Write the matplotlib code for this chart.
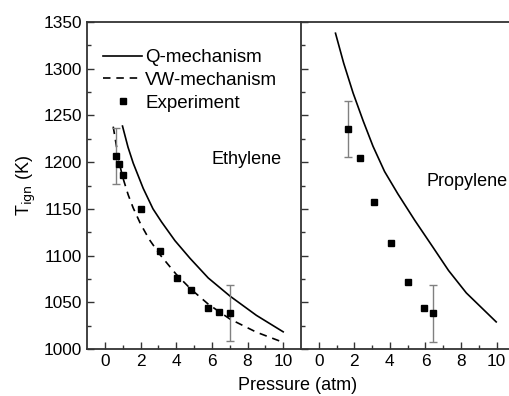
# Tign vs presion: etileno y propileno (Q / VW mecanismo + experimento)

import matplotlib
matplotlib.use("Agg")
import matplotlib.pyplot as plt
import numpy as np

plt.rcParams['font.family'] = ['Liberation Sans', 'DejaVu Sans']
plt.rcParams['font.size'] = 12.4

W, H = 509, 396

# datos leidos del grafico
# etileno
eti_q_p = [0.99, 1.3, 1.59, 2.15, 2.7, 3.18, 3.93, 4.78, 5.8, 7.02, 8.5, 10.0]
eti_q_T = [1238.6, 1216, 1199, 1172, 1150, 1136, 1116, 1097, 1076, 1056.6, 1036, 1018.4]
eti_vw_p = [0.47, 0.8, 1.0, 1.31, 1.59, 2.0, 2.5, 3.09, 4.0, 4.83, 5.8, 7.02, 8.5, 9.92]
eti_vw_T = [1238, 1200, 1184, 1165, 1151, 1134, 1117, 1101, 1080, 1064, 1048, 1032, 1018, 1007.7]
eti_exp_p = [0.60, 0.79, 1.01, 2.04, 3.09, 4.03, 4.83, 5.79, 6.40, 7.02]
eti_exp_T = [1207, 1198, 1186.5, 1150, 1105, 1075.6, 1063.4, 1044, 1039.8, 1038.4]
eti_err = [30, 0, 0, 0, 0, 0, 0, 0, 0, 30]

# propileno
pro_q_p = [0.94, 1.4, 1.93, 2.5, 3.05, 3.7, 4.45, 5.39, 6.42, 7.3, 8.3, 9.98]
pro_q_T = [1338, 1306, 1274, 1244, 1217, 1190, 1166, 1138, 1109, 1084, 1060, 1029]
pro_exp_p = [1.65, 2.32, 3.10, 4.07, 5.04, 5.93, 6.44]
pro_exp_T = [1235, 1204, 1157, 1113.7, 1072, 1044, 1038]
pro_err = [30, 0, 0, 0, 0, 0, 30]

fig = plt.figure(figsize=(W / 100, H / 100), dpi=100)
ax1 = fig.add_axes([87 / W, 1 - 349 / H, 214 / W, 327 / H])
ax2 = fig.add_axes([301 / W, 1 - 349 / H, 208 / W, 327 / H])

def errbars(ax, p, T, err):
    idx = [i for i, e in enumerate(err) if e > 0]
    ax.errorbar([p[i] for i in idx], [T[i] for i in idx], yerr=[err[i] for i in idx],
                fmt='none', ecolor='#808080', elinewidth=1, capsize=3, capthick=1, zorder=2)

ax1.plot(eti_q_p, eti_q_T, color='black', lw=1.2, label='Q-mechanism')
ax1.plot(eti_vw_p, eti_vw_T, color='black', lw=1.2, ls=(0, (4.5, 3.5)), label='VW-mechanism')
errbars(ax1, eti_exp_p, eti_exp_T, eti_err)
ax1.plot(eti_exp_p, eti_exp_T, 's', color='black', ms=5, label='Experiment', zorder=3)

ax2.plot(pro_q_p, pro_q_T, color='black', lw=1.2)
errbars(ax2, pro_exp_p, pro_exp_T, pro_err)
ax2.plot(pro_exp_p, pro_exp_T, 's', color='black', ms=5, zorder=3)

for ax in (ax1, ax2):
    ax.set_ylim(1000, 1350)
    ax.set_xticks(np.arange(0, 11, 2))
    ax.set_xticks(np.arange(1, 11, 2), minor=True)
    ax.set_yticks(np.arange(1000, 1351, 50))
    ax.set_yticks(np.arange(1025, 1350, 50), minor=True)
    ax.tick_params(which='both', direction='in', top=False, right=False, color='#333333')
    ax.tick_params(which='major', length=5, width=1)
    ax.tick_params(which='minor', length=3, width=1)
    for s in ax.spines.values():
        s.set_color('#333333')
        s.set_linewidth(1.3)

ax1.set_xlim(-1, 11)
ax2.set_xlim(-1, 10.7)
ax1.spines['right'].set_visible(False)
ax2.spines['right'].set_visible(False)
ax2.set_yticklabels([])

ax1.set_ylabel(r'T$_{\mathrm{ign}}$ (K)', labelpad=4, fontsize=13)
fig.text(298 / W, 1 - 386 / H, 'Pressure (atm)', ha='center', va='center', fontsize=13)
fig.text(247 / W, 1 - 160 / H, 'Ethylene', ha='center', va='center', fontsize=13)
fig.text(467 / W, 1 - 182 / H, 'Propylene', ha='center', va='center', fontsize=13)

ax1.legend(loc='upper left', frameon=False, fontsize=13.5, handlelength=2.1,
           handletextpad=0.15, borderpad=0, borderaxespad=0, labelspacing=0.3,
           bbox_to_anchor=(16 / 214, 1 - 27 / 327))

fig.savefig('out.png', dpi=100)
